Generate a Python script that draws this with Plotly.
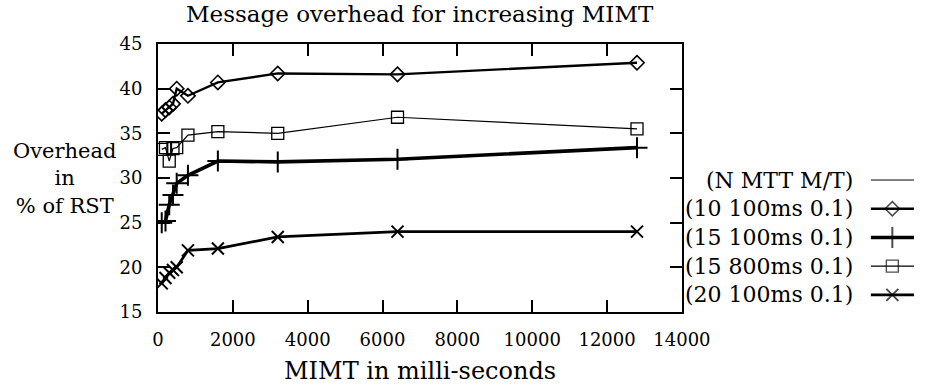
import plotly.graph_objects as go

# ---------------- data ----------------
mimt_ms = [100, 200, 300, 400, 500, 800, 1600, 3200, 6400, 12800]
overhead_10_100ms = [37.2, 37.6, 37.9, 38.3, 40.0, 39.2, 40.7, 41.7, 41.6, 42.9]
overhead_15_100ms = [25.0, 25.2, 27.0, 28.1, 29.4, 30.3, 31.9, 31.8, 32.1, 33.4]
overhead_15_800ms = [33.2, 33.4, 31.9, 33.3, 33.4, 34.8, 35.2, 35.0, 36.8, 35.5]
overhead_20_100ms = [18.2, 18.8, 19.4, 19.7, 20.0, 21.9, 22.1, 23.4, 24.0, 24.0]

legend_header = "(N MTT M/T)"
series_labels = ["(10 100ms 0.1)", "(15 100ms 0.1)", "(15 800ms 0.1)", "(20 100ms 0.1)"]
x_ticks = [0, 2000, 4000, 6000, 8000, 10000, 12000, 14000]
y_ticks = [15, 20, 25, 30, 35, 40, 45]
title_text = "Message overhead for increasing MIMT"
x_title = "MIMT in milli-seconds"
y_title_lines = ["Overhead", "in", "% of RST"]

# ---------------- layout geometry ----------------
W, H = 951, 388
L, R, T, B = 158, 8, 44, 76
PW, PH = W - L - R, H - T - B
FONT = "DejaVu Serif"


def fx(p):
    return (p - L) / PW


def fy(p):
    return (H - B - p) / PH


series = [
    (overhead_10_100ms, "diamond-open", 11, 1.6, 2.3),
    (overhead_15_100ms, "cross-thin-open", 15, 2.0, 3.6),
    (overhead_15_800ms, "square-open", 12, 1.3, 1.2),
    (overhead_20_100ms, "x-thin-open", 12, 2.0, 2.7),
]

fig = go.Figure()
for vals, sym, size, mlw, lw in series:
    fig.add_trace(go.Scatter(
        x=mimt_ms, y=vals, mode="lines+markers",
        line=dict(color="black", width=lw),
        marker=dict(symbol=sym, size=size, color="black",
                    line=dict(color="black", width=mlw)),
        showlegend=False, hoverinfo="skip", xaxis="x", yaxis="y"))

# ---------------- manual legend (text left, key right) ----------------
legend_rows = [legend_header] + series_labels
key_x = [0, 0.5, 1]
fig.add_trace(go.Scatter(x=[0, 1], y=[0, 0], mode="lines",
                         line=dict(color="black", width=1.0),
                         showlegend=False, hoverinfo="skip",
                         xaxis="x2", yaxis="y2"))
for i, (vals, sym, size, mlw, lw) in enumerate(series, start=1):
    fig.add_trace(go.Scatter(
        x=key_x, y=[i] * 3, mode="lines+markers",
        line=dict(color="black", width=lw),
        marker=dict(symbol=sym, size=[0, size, 0], color="black",
                    line=dict(color="black", width=[0, mlw, 0])),
        showlegend=False, hoverinfo="skip", xaxis="x2", yaxis="y2"))

annotations = []
for i, txt in enumerate(legend_rows):
    annotations.append(dict(text=txt, xref="paper", yref="y2", x=fx(882), y=i,
                            xanchor="right", yanchor="middle", showarrow=False,
                            font=dict(family=FONT, size=22, color="black")))

annotations.append(dict(text=title_text, xref="paper", yref="paper",
                        x=fx(430), y=fy(14), xanchor="center", yanchor="middle",
                        showarrow=False, font=dict(family=FONT, size=23, color="black")))
annotations.append(dict(text=x_title, xref="paper", yref="paper",
                        x=fx(430), y=fy(371), xanchor="center", yanchor="middle",
                        showarrow=False, font=dict(family=FONT, size=24, color="black")))
annotations.append(dict(text="<br>".join(y_title_lines), xref="paper", yref="paper",
                        x=fx(61), y=fy(178), xanchor="center", yanchor="middle",
                        align="center", showarrow=False,
                        font=dict(family=FONT, size=21, color="black")))

axis_common = dict(showline=True, linecolor="black", linewidth=2, mirror="ticks",
                   ticks="inside", ticklen=12, tickwidth=2, tickcolor="black",
                   showgrid=False, zeroline=False,
                   tickfont=dict(family=FONT, size=18, color="black"))

fig.update_layout(
    width=W, height=H,
    margin=dict(l=L, r=R, t=T, b=B, pad=0),
    paper_bgcolor="white", plot_bgcolor="white",
    xaxis=dict(domain=[0, fx(702)], range=[0, 14000], tickvals=x_ticks,
               ticktext=[str(v) for v in x_ticks], ticklabelstandoff=10,
               **axis_common),
    yaxis=dict(domain=[0, 1], range=[15, 45], tickvals=y_ticks,
               ticktext=[str(v) for v in y_ticks], ticklabelstandoff=10,
               anchor="x", **axis_common),
    xaxis2=dict(domain=[fx(898), fx(943)], range=[0, 1], visible=False,
                anchor="y2", fixedrange=True),
    yaxis2=dict(domain=[0, 1], range=[4.597, -4.738], visible=False,
                anchor="x2", fixedrange=True),
    annotations=annotations,
    showlegend=False,
)

fig.write_html("out.html")
